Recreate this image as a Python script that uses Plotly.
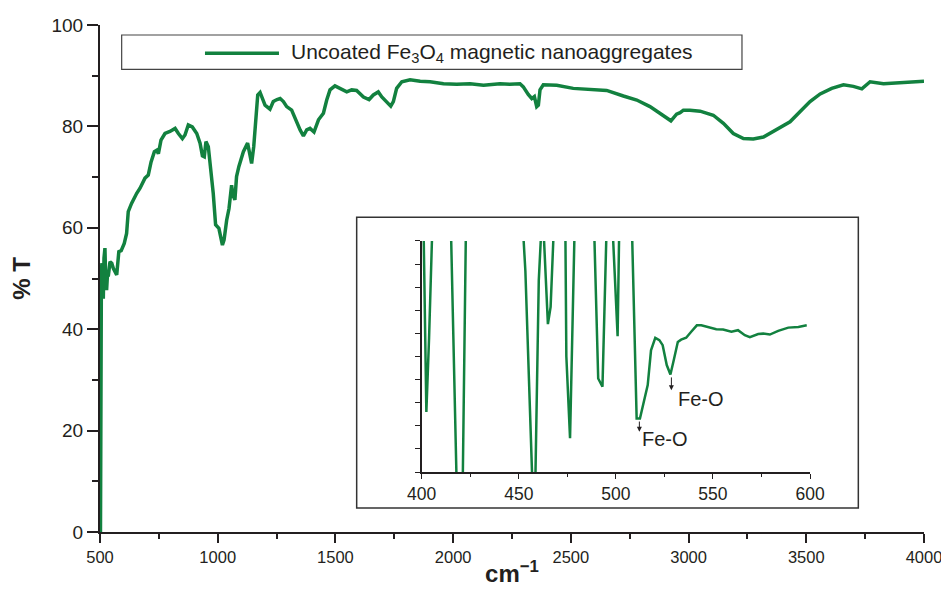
import plotly.graph_objects as go

# ---------------- data ----------------
wavenumber = [502, 504, 506, 508.5, 511, 514, 517, 521, 524, 528, 532, 535, 542.5, 550, 556.5, 565, 571,
              580, 590, 603, 613, 620, 634, 656, 670, 691, 705, 717, 731, 741, 748, 759, 776, 797, 819,
              833, 850, 861, 875, 892, 911, 925, 935, 943, 950, 960, 971, 981, 991, 1005, 1020, 1027,
              1038, 1048, 1059, 1065, 1073, 1080, 1090, 1109, 1127, 1134, 1144, 1153, 1161, 1170, 1180,
              1190, 1201, 1222, 1236, 1252, 1265, 1279, 1293, 1314, 1336, 1350, 1364, 1378, 1392, 1409,
              1428, 1449, 1463, 1477, 1498, 1520, 1548, 1569, 1590, 1619, 1643, 1661, 1682, 1697, 1718,
              1735, 1746, 1760, 1782, 1817, 1860, 1902, 1959, 2015, 2072, 2129, 2199, 2240, 2284, 2298,
              2319, 2334, 2345, 2355, 2362, 2369, 2383, 2440, 2510, 2581, 2652, 2723, 2780, 2836, 2893,
              2925, 2949, 2964, 2978, 3006, 3049, 3091, 3105, 3148, 3190, 3233, 3275, 3318, 3374, 3431,
              3473, 3516, 3559, 3608, 3658, 3700, 3736, 3771, 3828, 3898, 3955, 4000]
transmittance = [0, 46, 52, 53, 46, 46, 54, 56, 50, 47.7, 51, 50.4, 53.3, 53, 52, 51, 50.7,
                 55.3, 55.5, 56.9, 58.9, 63.2, 64.8, 66.8, 67.8, 69.8, 70.4, 73, 75, 75.3, 74.6, 77.3, 78.6, 79, 79.6,
                 78.6, 77.6, 78.3, 80.3, 79.9, 78.6, 76.7, 74.2, 74, 77, 76, 71.7, 66.8, 60.6, 59.9, 56.6, 57.6,
                 61.5, 63.8, 68.4, 66.4, 65.5, 70.1, 72.1, 75, 76.7, 75, 72.7, 76, 81.9, 86.2, 86.7,
                 85.5, 84.2, 83.4, 84.9, 85.3, 85.5, 84.9, 83.9, 83.2, 80.6, 79.3, 78.1, 79.3, 79.6, 78.9,
                 81.3, 82.6, 85.2, 87.2, 88, 87.5, 86.8, 87.2, 87.1, 85.8, 85.3, 86.2, 86.8, 85.8, 84.7,
                 84, 84.9, 87.5, 88.8, 89.2, 88.9, 88.8, 88.4, 88.3, 88.4, 88.1, 88.4, 88.3, 88.4, 87.8,
                 86.3, 85.5, 85.9, 83.9, 84.2, 87.2, 88.2, 88.1, 87.5, 87.3, 87.1, 86, 85.2, 83.9, 82.2,
                 81.1, 82.4, 82.7, 83.2, 83.2, 83, 82.4, 82.2, 80.6, 78.6, 77.6, 77.5, 77.9, 79.3, 80.9,
                 82.9, 84.9, 86.4, 87.5, 88.2, 87.9, 87.4, 88.8, 88.4, 88.6, 88.8, 88.9]

inset_wavenumber = [400.8, 402.4, 403.8, 405.8, 414.8, 420, 423, 451.5, 453.4, 458, 460.3, 462.2, 465,
                    466.4, 468.5, 473.9, 474.5, 476.4, 479, 488.5, 490.9, 493.1, 495.5, 497.8, 500.9,
                    501.9, 508, 510.7, 512.4, 516.4, 518.1, 520.3, 522.4, 524.1, 526.2, 528.1, 529.8,
                    531.9, 533.6, 536.2, 538.8, 541.7, 544, 548.3, 551.7, 555.2, 559.5, 562.9, 566.4,
                    569, 573.3, 575.9, 579.3, 583.6, 588.8, 594, 598.3]
inset_signal = [115, 26, 58, 115, 115, -80, 120, 115, 87, -30, 83, 115, 64,
                71.5, 115, 115, 50, 14.6, 115, 115, 40.5, 36.9, 115, 115, 58.8,
                115, 115, 23.2, 23.2, 37.6, 52.7, 58.1, 57.1, 54.9, 46.3, 42.2, 48.4,
                56.3, 57.3, 58.1, 60.7, 63.5, 63.5, 62.5, 61.8, 61.7, 60.7, 61.4, 59.2,
                58.4, 59.7, 59.9, 59.5, 61.1, 62.5, 62.8, 63.5]

series_name = "Uncoated Fe<sub>3</sub>O<sub>4</sub> magnetic nanoaggregates"
x_ticks = [500, 1000, 1500, 2000, 2500, 3000, 3500, 4000]
y_ticks = [0, 20, 40, 60, 80, 100]
inset_x_ticks = [400, 450, 500, 550, 600]
peak_labels = ["Fe-O", "Fe-O"]
peak_x = [512.1, 528.6]
peak_tail_y = [22.5, 41.6]
peak_head_y = [17.4, 35.4]
label_x = [512.3, 531.0]
label_y = [14.2, 31.8]

# ---------------- style ----------------
GREEN = "#12813f"
INK = "#231f20"
FONT = "Liberation Sans, Arial, sans-serif"

fig = go.Figure()
fig.add_trace(go.Scatter(x=wavenumber, y=transmittance, mode="lines", name=series_name,
                         line=dict(color=GREEN, width=3.5), showlegend=False))
fig.add_trace(go.Scatter(x=inset_wavenumber, y=inset_signal, mode="lines", name="inset",
                         line=dict(color=GREEN, width=2.5), xaxis="x2", yaxis="y2", showlegend=False))

axis_common = dict(showline=True, linecolor=INK, showgrid=False, zeroline=False, ticks="outside",
                   tickcolor=INK, automargin=False)

fig.update_layout(
    width=941, height=603, autosize=False,
    margin=dict(l=100, r=17, t=25, b=71),
    paper_bgcolor="white", plot_bgcolor="white",
    font=dict(family=FONT, color=INK),
    showlegend=False,
    xaxis=dict(**axis_common, range=[500, 4000], tickvals=x_ticks, linewidth=2, ticklen=9, tickwidth=1.5,
               minor=dict(dtick=250, ticklen=5, tickwidth=1.5, tickcolor=INK, ticks="outside"),
               tickfont=dict(size=16.5), ticklabeloverflow="allow",
               title=dict(text="<b>cm<sup>−1</sup></b>", font=dict(size=24), standoff=0)),
    yaxis=dict(**axis_common, range=[0, 100], tickvals=y_ticks, linewidth=2, ticklen=11, tickwidth=1.5,
               minor=dict(dtick=10, ticklen=6, tickwidth=1.5, tickcolor=INK, ticks="outside"),
               tickfont=dict(size=19),
               title=dict(text="<b>% T</b>", font=dict(size=24), standoff=14)),
    xaxis2=dict(**axis_common, anchor="y2", domain=[0.3904, 0.8617], range=[400, 600],
                tickvals=inset_x_ticks, linewidth=1.5, ticklen=5, tickwidth=1.2,
                minor=dict(dtick=25, ticklen=3, tickwidth=1.2, tickcolor=INK, ticks="outside"),
                tickfont=dict(size=17.5)),
    yaxis2=dict(**axis_common, anchor="x2", domain=[0.1183, 0.5740], range=[0, 100], dtick=10,
                showticklabels=False, linewidth=1.5, ticklen=5, tickwidth=1.2),
)

shapes = [
    # inset frame
    dict(type="rect", xref="paper", yref="paper", x0=0.3115, x1=0.9203, y0=0.0473, y1=0.6207,
         line=dict(color="#333333", width=1.5), fillcolor="white", layer="below"),
    # legend frame
    dict(type="rect", xref="paper", yref="paper", x0=0.0263, x1=0.7791, y0=0.9126, y1=0.9803,
         line=dict(color="#444444", width=1.2), fillcolor="white", layer="above"),
    dict(type="line", xref="paper", yref="paper", x0=0.1274, x1=0.2172, y0=0.9442, y1=0.9442,
         line=dict(color=GREEN, width=3.5), layer="above"),
]
fig.update_layout(shapes=shapes)

annotations = [dict(xref="paper", yref="paper", x=0.2294, y=0.9442, xanchor="left", yanchor="middle",
                    text=series_name, showarrow=False, font=dict(size=21, color=INK))]
for i in range(len(peak_labels)):
    annotations.append(dict(xref="x2", yref="y2", x=peak_x[i], y=peak_head_y[i], axref="x2", ayref="y2",
                            ax=peak_x[i], ay=peak_tail_y[i], text="", showarrow=True, arrowhead=2,
                            arrowsize=1, arrowwidth=1, arrowcolor=INK, standoff=0, startstandoff=0))
    annotations.append(dict(xref="x2", yref="y2", x=label_x[i], y=label_y[i], xanchor="left",
                            yanchor="middle", text=peak_labels[i], showarrow=False,
                            font=dict(size=20, color=INK)))
fig.update_layout(annotations=annotations)

fig.write_html("out.html", config={"responsive": False, "displayModeBar": False},
               post_script="document.body.style.margin='0';document.body.style.overflow='hidden';")
